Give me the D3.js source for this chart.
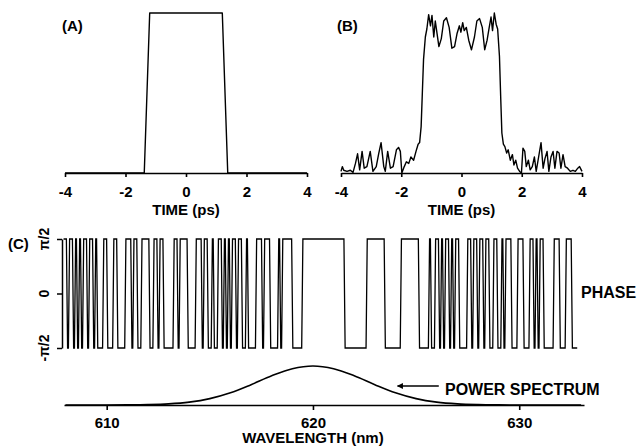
<!DOCTYPE html>
<html><head><meta charset="utf-8">
<script src="https://cdn.jsdelivr.net/npm/d3@7"></script>
<style>
html,body{margin:0;padding:0;background:#fff;}
svg{display:block;}
text{font-family:"Liberation Sans",Arial,Helvetica,sans-serif;font-weight:bold;fill:#000;}
</style></head><body>
<script>
// ---------- DATA ----------
const timeTicks = [-4, -2, 0, 2, 4];
const wlTicks = [610, 620, 630];
const phaseTickVals = [-Math.PI/2, 0, Math.PI/2];
const phaseTickLabels = ["-\u03c0/2", "0", "\u03c0/2"];

// (A) target pulse
const timeA = [-4, -1.38, -1.2, 1.2, 1.38, 4];
const ampA  = [0, 0, 1, 1, 0, 0];

// (B) achieved pulse
const timeB = [-4.00,-3.956,-3.91,-3.80,-3.69,-3.60,-3.52,-3.45,-3.38,-3.30,-3.23,-3.14,-3.03,-2.94,-2.83,-2.75,-2.67,-2.58,-2.53,-2.45,-2.36,-2.27,-2.16,-2.09,-2.03,-1.98,-1.90,-1.83,-1.75,-1.68,-1.59,-1.51,-1.44,-1.39,-1.34,-1.30,-1.26,-1.20,-1.15,-1.09,-1.03,-0.98,-0.92,-0.87,-0.81,-0.75,-0.67,-0.59,-0.50,-0.41,-0.32,-0.23,-0.15,-0.07,-0.02,0.04,0.09,0.16,0.24,0.33,0.43,0.51,0.60,0.69,0.77,0.85,0.92,0.98,1.03,1.09,1.15,1.20,1.26,1.30,1.34,1.39,1.44,1.50,1.55,1.62,1.69,1.74,1.80,1.86,1.93,1.99,2.04,2.10,2.15,2.22,2.28,2.35,2.42,2.48,2.56,2.64,2.71,2.77,2.84,2.90,2.97,3.04,3.10,3.17,3.24,3.30,3.37,3.44,3.52,3.61,3.70,3.78,3.86,3.92,4.00];
const ampB  = [0.01,0.04,0.017,0.01,0.017,0.004,0.06,0.12,0.02,0.135,0.03,0.04,0.135,0.01,0.04,0.12,0.19,0.04,0.01,0.135,0.03,0.04,0.145,0.16,0.135,0.0,0.04,0.07,0.06,0.10,0.08,0.135,0.18,0.19,0.29,0.50,0.71,0.85,0.90,0.99,0.92,0.985,0.85,0.95,0.87,0.79,0.84,0.95,0.97,0.91,0.78,0.79,0.87,0.92,0.88,0.94,0.89,0.91,0.83,0.77,0.85,0.95,0.965,0.91,0.77,0.83,0.91,0.975,0.89,1.0,0.93,0.90,0.73,0.48,0.25,0.18,0.165,0.125,0.145,0.08,0.115,0.05,0.08,0.03,0.01,0.0,0.155,0.135,0.04,0.08,0.02,0.04,0.10,0.01,0.10,0.19,0.03,0.09,0.135,0.01,0.10,0.135,0.03,0.135,0.125,0.03,0.115,0.04,0.03,0.01,0.017,0.01,0.03,0.04,0.01];

// (C) binary spectral phase (1 = +pi/2, 0 = -pi/2), one value per modulator pixel
const phaseStart = 607.88;   // nm
const phaseStep = 0.0975;    // nm per pixel
const phaseBits = [
  1,1,0,1,1,0,1,0,1,0,1,1,0,1,1,0,1,0,0,0,1,1,0,0,0,1,1,0,0,0,0,1,1,1,0,1,1,0,0,1,1,
  1,1,0,0,1,1,0,1,1,0,0,0,0,0,1,1,0,1,1,1,1,0,0,0,0,1,1,1,0,1,1,0,0,1,0,0,1,1,0,1,
  0,1,0,1,1,0,1,1,0,0,1,0,0,0,0,1,1,1,0,1,1,1,0,0,0,0,1,0,1,1,1,1,1,0,0,0,0,0,1,
  1,1,1,1,1,1,1,1,1,1,1,1,1,1,1,1,1,1,1,1,
  0,0,0,0,0,0,0,0,0,0,0,
  1,1,1,1,1,1,1,1,1,
  0,0,0,0,0,0,0,0,
  1,1,1,1,1,1,1,1,1,
  0,0,0,0,0,
  1,0,0,1,1,0,1,0,1,1,0,1,0,1,1,
  0,0,0,0,
  1,1,0,1,1,0,1,1,0,1,1,
  0,0,1,1,0,0,1,0,1,1,1,0,0,0,
  1,1,1,0,0,0,1,1,0,1,0,1,1,
  0,0,0,0,0,1,1,1,0,0,0,1,1,1,0,0,0];

// power spectrum
const specWl  = [608,609,610,611,612,613,614,615,616,617,618,619,620,621,622,623,624,625,626,627,628,629,630,631,632,633];
const specPow = [0,0,0.001,0.003,0.010,0.029,0.074,0.164,0.314,0.522,0.749,0.930,1,0.930,0.749,0.522,0.314,0.164,0.074,0.029,0.010,0.003,0.001,0,0,0];

// ---------- DRAW ----------
const W = 638, H = 447;
const svg = d3.select("body").append("svg").attr("width", W).attr("height", H);

const fontTick = 15, fontTitle = 15;

function timePanel(x0, x1, times, amps, label, labelX) {
  const x = d3.scaleLinear().domain([-4, 4]).range([x0, x1]);
  const y = d3.scaleLinear().domain([0, 1]).range([173, 13]);
  const ax = svg.append("g").attr("transform", "translate(0,173)")
    .call(d3.axisBottom(x).tickValues(timeTicks).tickSize(4).tickSizeOuter(0).tickPadding(9)
      .tickFormat(d => String(d)));
  ax.select(".domain").attr("stroke", "#000").attr("stroke-width", 1.6);
  ax.selectAll(".tick line").attr("stroke", "#000").attr("stroke-width", 1.6);
  ax.selectAll(".tick text").attr("font-size", fontTick);
  ax.attr("font-family", null);
  svg.append("text").attr("x", (x0 + x1) / 2).attr("y", 215).attr("text-anchor", "middle")
    .attr("font-size", fontTitle).text("TIME (ps)");
  svg.append("text").attr("x", labelX).attr("y", 31).attr("font-size", 15).text(label);
  const pts = times.map((t, i) => [t, amps[i]]);
  svg.append("path").datum(pts)
    .attr("d", d3.line().x(d => x(d[0])).y(d => y(d[1])))
    .attr("fill", "none").attr("stroke", "#000").attr("stroke-width", 1.4)
    .attr("stroke-linejoin", "round");
}
timePanel(65, 307, timeA, ampA, "(A)", 62);
timePanel(341, 582, timeB, ampB, "(B)", 337);

// wavelength scale shared by phase and spectrum
const xw = d3.scaleLinear().domain([607.93, 633.14]).range([64, 584]);

// phase panel
const yp = d3.scaleLinear().domain([-Math.PI/2, Math.PI/2]).range([348, 239]);
const pax = svg.append("g").attr("transform", "translate(62,0)")
  .call(d3.axisLeft(yp).tickValues(phaseTickVals).tickSize(5).tickSizeOuter(0).tickFormat(() => ""));
pax.select(".domain").attr("stroke", "#000").attr("stroke-width", 1.5);
pax.selectAll(".tick line").attr("stroke", "#000").attr("stroke-width", 1.5);
phaseTickVals.forEach((v, i) => {
  svg.append("text").attr("transform", `translate(49,${yp(v)}) rotate(-90)`)
    .attr("text-anchor", "middle").attr("font-size", 14).text(phaseTickLabels[i]);
});
const phasePts = [];
phaseBits.forEach((b, i) => {
  const v = b ? Math.PI/2 : -Math.PI/2;
  phasePts.push([phaseStart + (i + 0.3) * phaseStep, v]);
  phasePts.push([phaseStart + (i + 0.7) * phaseStep, v]);
});
svg.append("path").datum(phasePts)
  .attr("d", d3.line().x(d => xw(d[0])).y(d => yp(d[1])))
  .attr("fill", "none").attr("stroke", "#000").attr("stroke-width", 1.3);
svg.append("text").attr("x", 8).attr("y", 249).attr("font-size", 15).text("(C)");
svg.append("text").attr("x", 581).attr("y", 298).attr("font-size", 16).text("PHASE");

// spectrum
const axisY = 405;
const ys = d3.scaleLinear().domain([0, 1]).range([axisY, 366]);
const wax = svg.append("g").attr("transform", `translate(0,${axisY})`)
  .call(d3.axisBottom(xw).tickValues(wlTicks).tickSize(5).tickSizeOuter(0).tickPadding(7));
wax.select(".domain").attr("stroke", "#000").attr("stroke-width", 1.6);
wax.selectAll(".tick line").attr("stroke", "#000").attr("stroke-width", 1.6);
wax.selectAll(".tick text").attr("font-size", fontTick);
wax.attr("font-family", null);
svg.append("text").attr("x", xw(620)).attr("y", 443).attr("text-anchor", "middle")
  .attr("font-size", fontTitle).text("WAVELENGTH (nm)");
svg.append("path").datum(specWl.map((w, i) => [w, specPow[i]]))
  .attr("d", d3.line().curve(d3.curveCatmullRom).x(d => xw(d[0])).y(d => ys(d[1])))
  .attr("fill", "none").attr("stroke", "#000").attr("stroke-width", 1.6);

// arrow + label
const arrY = 386;
svg.append("defs").append("marker").attr("id", "ah").attr("viewBox", "0 0 10 10")
  .attr("refX", 1).attr("refY", 5).attr("markerWidth", 12).attr("markerHeight", 6)
  .attr("markerUnits", "userSpaceOnUse").attr("orient", "auto")
  .append("path").attr("d", "M0,5 L10,0 L10,10 Z").attr("fill", "#000");
svg.append("line").attr("x1", xw(624.1)).attr("x2", xw(626.1)).attr("y1", arrY).attr("y2", arrY)
  .attr("stroke", "#000").attr("stroke-width", 1.6).attr("marker-start", "url(#ah)");
svg.append("text").attr("x", xw(626.4)).attr("y", 395).attr("font-size", 16).text("POWER SPECTRUM");
</script>
</body></html>
